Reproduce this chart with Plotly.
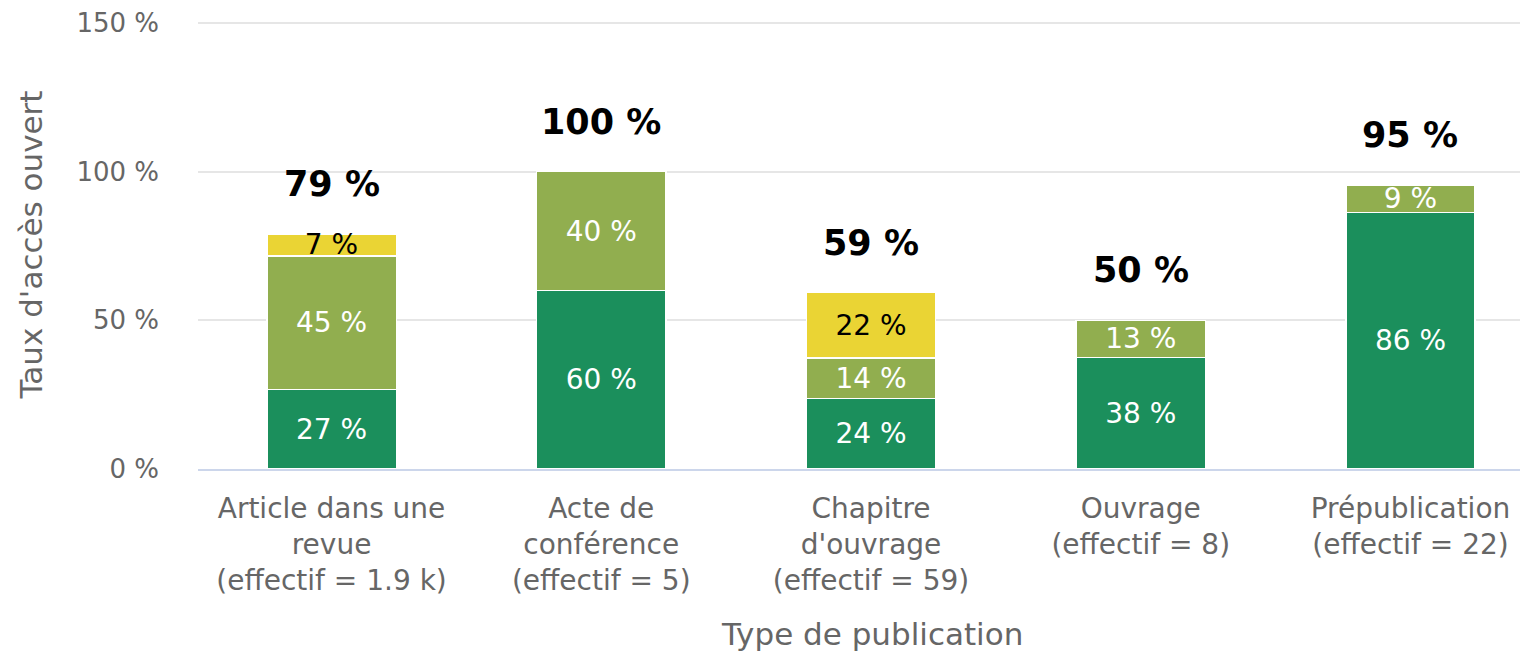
import plotly.graph_objects as go

categories = [
    "Article dans une<br>revue<br>(effectif = 1.9 k)",
    "Acte de<br>conférence<br>(effectif = 5)",
    "Chapitre<br>d'ouvrage<br>(effectif = 59)",
    "Ouvrage<br>(effectif = 8)",
    "Prépublication<br>(effectif = 22)",
]
series_names = ["Série 1", "Série 2", "Série 3"]
dark_green = [26.8, 60.0, 23.7, 37.5, 86.3]
olive_green = [44.9, 40.0, 13.6, 12.5, 9.1]
yellow = [7.3, None, 22.0, None, None]
y_ticks = [0, 50, 100, 150]
y_tick_labels = ["0 %", "50 %", "100 %", "150 %"]

colors = ["#1b8f5c", "#91ae4f", "#ead434"]
label_colors = ["white", "white", "black"]
FONT = "DejaVu Sans"


def fmt(v):
    return "" if v is None else f"{int(v + 0.5)} %"


fig = go.Figure()
for name, vals, col, lcol in zip(series_names, [dark_green, olive_green, yellow], colors, label_colors):
    fig.add_trace(go.Bar(
        x=categories, y=vals, name=name,
        marker=dict(color=col, line=dict(color="white", width=1.5)),
        text=[fmt(v) for v in vals],
        textposition="inside", insidetextanchor="middle",
        textangle=0, constraintext="none",
        textfont=dict(family=FONT, size=28, color=lcol),
        width=0.48, showlegend=False, hoverinfo="skip",
    ))

totals = [sum(v for v in col if v is not None) for col in zip(dark_green, olive_green, yellow)]
for c, t in zip(categories, totals):
    fig.add_annotation(x=c, y=t, text=f"<b>{int(t + 0.5)} %</b>", showarrow=False,
                       yshift=50, yanchor="middle",
                       font=dict(family=FONT, size=35, color="black"))

fig.add_annotation(x=0.51, y=-0.4124, xref="paper", yref="paper", text="Type de publication",
                   showarrow=False, xanchor="center", yanchor="bottom",
                   font=dict(family=FONT, size=31, color="#666666"))

fig.update_layout(
    barmode="stack",
    width=1512, height=647,
    margin=dict(l=190, r=0, t=10, b=186),
    plot_bgcolor="white", paper_bgcolor="white",
    font=dict(family=FONT, color="#666666"),
)
fig.update_xaxes(
    type="category", range=[-0.495, 4.406],
    showline=True, linecolor="#ccd6eb", linewidth=2,
    showgrid=False, ticks="", ticklabelstandoff=13,
    tickfont=dict(family=FONT, size=28, color="#666666"),
)
fig.update_yaxes(
    range=[0, 151], tickvals=y_ticks, ticktext=y_tick_labels,
    showgrid=True, gridcolor="#e6e6e6", gridwidth=2,
    zeroline=False, showline=False, ticklabelstandoff=38,
    ticklabeloverflow="allow",
    tickfont=dict(family=FONT, size=26, color="#666666"),
    title=dict(text="Taux d'accès ouvert", font=dict(family=FONT, size=31, color="#666666"), standoff=24),
)

fig.write_html("out.html")
